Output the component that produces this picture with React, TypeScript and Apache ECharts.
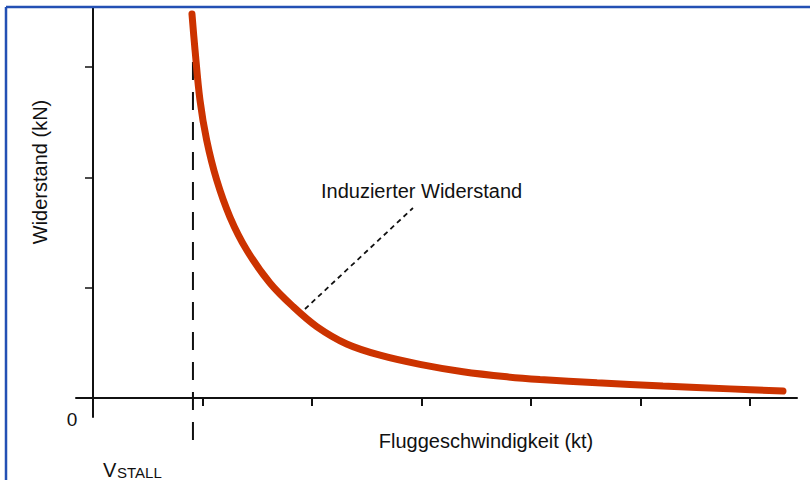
import React, { useEffect, useRef } from "react";
import * as echarts from "echarts";

// Induced drag curve (x in speed units, y in drag units)
const dragX = [0.904, 0.932, 0.977, 1.038, 1.13, 1.251, 1.404, 1.616, 1.826, 2.043, 2.317, 2.621, 2.986, 3.379, 3.781, 4.082, 4.603, 5.205, 5.817, 6.301];
const dragY = [3.481, 3.155, 2.702, 2.339, 1.976, 1.641, 1.342, 1.043, 0.83, 0.648, 0.49, 0.388, 0.305, 0.238, 0.192, 0.168, 0.138, 0.108, 0.083, 0.063];

const vStall = 0.913;
const vStallSpan = [-0.38, 3.4];
const leaderStart = [1.936, 0.807];
const leaderEnd = [2.922, 1.723];

const xTicks = [1, 2, 3, 4, 5, 6];
const yTicks = [1, 2, 3];

const xTitle = "Fluggeschwindigkeit (kt)";
const yTitle = "Widerstand (kN)";
const curveLabel = "Induzierter Widerstand";
const zeroLabel = "0";
const stallMain = "V";
const stallSub = "STALL";

export default function App() {
  const ref = useRef<HTMLDivElement>(null);
  useEffect(() => {
    if (!ref.current) return;
    const chart = echarts.init(ref.current, null, { renderer: "svg" });
    const font = "'Liberation Sans', Arial, Helvetica, sans-serif";
    const frameColor = "#2350b4";
    chart.setOption({
      animation: false,
      backgroundColor: "#ffffff",
      grid: { left: 76, right: 13, top: 7, bottom: 63 },
      xAxis: {
        type: "value",
        min: -0.155,
        max: 6.429,
        axisLine: { show: true, onZero: true, lineStyle: { color: "#111", width: 2 } },
        axisTick: { show: true, customValues: xTicks, length: 8, inside: false, lineStyle: { color: "#111", width: 2 } },
        axisLabel: { show: false },
        splitLine: { show: false },
      },
      yAxis: {
        type: "value",
        min: -0.172,
        max: 3.545,
        axisLine: { show: true, onZero: true, lineStyle: { color: "#111", width: 2 } },
        axisTick: { show: true, customValues: yTicks, length: 8, inside: false, lineStyle: { color: "#111", width: 1.5 } },
        axisLabel: { show: false },
        splitLine: { show: false },
      },
      series: [
        {
          type: "line",
          data: [[vStall, vStallSpan[0]], [vStall, vStallSpan[1]]],
          showSymbol: false,
          clip: false,
          lineStyle: { color: "#111", width: 2, type: [18, 12] },
          silent: true,
        },
        {
          type: "line",
          data: [leaderStart, leaderEnd],
          showSymbol: false,
          lineStyle: { color: "#111", width: 1.8, type: [5, 4] },
          silent: true,
        },
        {
          type: "line",
          data: dragX.map((x, i) => [x, dragY[i]]),
          smooth: 0.35,
          showSymbol: false,
          lineStyle: { color: "#cc3300", width: 7, cap: "round" },
          silent: true,
        },
      ],
      graphic: {
        elements: [
          {
            type: "line",
            z: 100,
            shape: { x1: 6, y1: 7, x2: 6, y2: 480 },
            style: { stroke: frameColor, lineWidth: 2.5 },
          },
          {
            type: "line",
            z: 100,
            shape: { x1: 6, y1: 7, x2: 810, y2: 7 },
            style: { stroke: frameColor, lineWidth: 2.5 },
          },
          {
            type: "text",
            x: 40,
            y: 172,
            rotation: Math.PI / 2,
            style: { text: yTitle, font: `20px ${font}`, fill: "#111", align: "center", verticalAlign: "middle" },
          },
          {
            type: "text",
            x: 486,
            y: 441,
            style: { text: xTitle, font: `20px ${font}`, fill: "#111", align: "center", verticalAlign: "middle" },
          },
          {
            type: "text",
            x: 321,
            y: 191,
            style: { text: curveLabel, font: `20px ${font}`, fill: "#111", align: "left", verticalAlign: "middle" },
          },
          {
            type: "text",
            x: 72,
            y: 419,
            style: { text: zeroLabel, font: `19px ${font}`, fill: "#111", align: "center", verticalAlign: "middle" },
          },
          {
            type: "text",
            x: 103,
            y: 470,
            style: { text: stallMain, font: `20px ${font}`, fill: "#111", align: "left", verticalAlign: "middle" },
          },
          {
            type: "text",
            x: 117,
            y: 472,
            style: { text: stallSub, font: `15px ${font}`, fill: "#111", align: "left", verticalAlign: "middle" },
          },
        ],
      },
    });
    return () => chart.dispose();
  }, []);
  return (
    <div
      ref={ref}
      style={{ position: "absolute", left: 0, top: 0, width: 810, height: 480 }}
    />
  );
}
